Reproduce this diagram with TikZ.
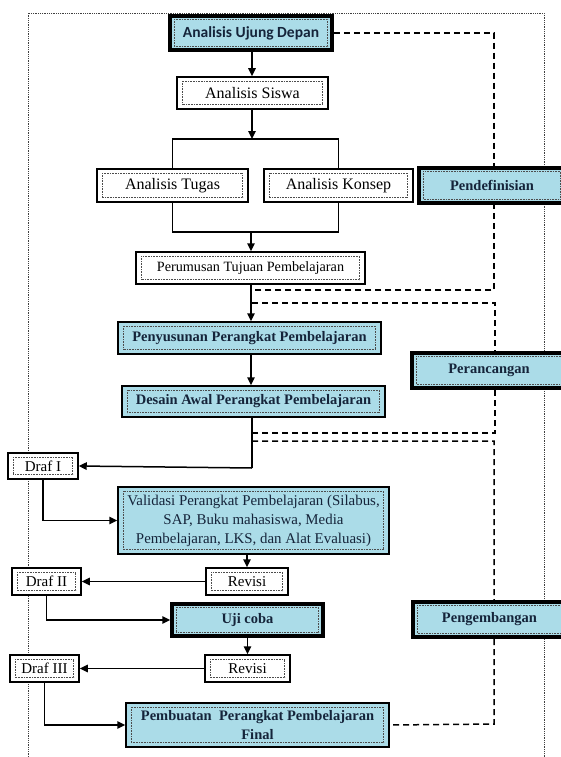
\documentclass[tikz,border=0pt]{standalone}
\usepackage{fontspec}
\setmainfont{Liberation Serif}
\newfontfamily\carl{Carlito}
\usetikzlibrary{arrows.meta,backgrounds}
\definecolor{boxblue}{HTML}{ABDCE8}
\definecolor{ink}{HTML}{15243A}
\tikzset{
  base/.style={draw=black, line width=1.5pt, inner sep=0pt, align=center, text=black},
  wbox/.style={base, fill=white, font=\fontsize{15}{18}\selectfont},
  bbox/.style={base, fill=boxblue, text=ink, font=\fontsize{14.5}{19}\selectfont\bfseries},
  thick box/.style={line width=3.5pt},
  arr/.style={-{Triangle[length=8pt,width=7.5pt]}, line width=1.5pt},
  ln/.style={line width=1.5pt},
  dline/.style={line width=1.5pt, dash pattern=on 6pt off 4pt},
  frame/.style={black!75, line width=0.8pt, densely dotted},
  inner/.style={black!70, line width=0.6pt, densely dotted}
}
\begin{document}
\begin{tikzpicture}[x=1pt,y=-1pt]
\useasboundingbox (0,0) rectangle (560,757);
% nodes
\node[bbox, thick box, minimum width=162pt, minimum height=34pt, font=\carl\fontsize{15.5}{18}\selectfont\bfseries] (aud) at (251,33) {Analisis Ujung Depan};
\node[wbox, minimum width=151pt, minimum height=32pt, font=\fontsize{16}{18}\selectfont] (as) at (252.5,93) {Analisis Siswa};
\node[wbox, minimum width=151pt, minimum height=33pt, font=\fontsize{16}{18}\selectfont] (tugas) at (172.5,185.5) {Analisis Tugas};
\node[wbox, minimum width=149pt, minimum height=33pt, font=\fontsize{16}{18}\selectfont] (konsep) at (338.5,185.5) {Analisis Konsep};
\node[bbox, thick box, minimum width=146pt, minimum height=35pt] (pendef) at (492,185.5) {Pendefinisian};
\node[wbox, minimum width=229pt, minimum height=32pt, font=\fontsize{14.2}{18}\selectfont] (perumusan) at (250.5,268) {Perumusan Tujuan Pembelajaran};
\node[bbox, minimum width=263pt, minimum height=32pt] (penyusunan) at (249.5,338) {Penyusunan Perangkat Pembelajaran};
\node[bbox, minimum width=263pt, minimum height=31pt] (desain) at (253.5,401.5) {Desain Awal Perangkat Pembelajaran};
\node[bbox, thick box, minimum width=154pt, minimum height=35pt] (perancangan) at (489,370.5) {Perancangan};
\node[wbox, minimum width=70pt, minimum height=26pt] (drafi) at (43,466) {Draf I};
\node[bbox, minimum width=271pt, minimum height=67pt, font=\fontsize{14.9}{19}\selectfont] (validasi) at (253.5,520.5) {Validasi Perangkat Pembelajaran (Silabus,\\SAP, Buku mahasiswa, Media\\Pembelajaran, LKS, dan Alat Evaluasi)};
\node[wbox, minimum width=82pt, minimum height=27pt] (revisia) at (247,581.5) {Revisi};
\node[wbox, minimum width=69pt, minimum height=27pt] (drafii) at (46.5,581.5) {Draf II};
\node[bbox, thick box, minimum width=151pt, minimum height=32pt] (uji) at (247.5,620) {Uji coba};
\node[bbox, thick box, minimum width=153pt, minimum height=35pt] (pengembangan) at (489.5,619.5) {Pengembangan};
\node[wbox, minimum width=85pt, minimum height=27pt] (revisib) at (247.5,668.5) {Revisi};
\node[wbox, minimum width=69pt, minimum height=27pt] (drafiii) at (44.5,668.5) {Draf III};
\node[bbox, minimum width=263pt, minimum height=44pt] (pembuatan) at (257.5,725) {Pembuatan\ \ Perangkat Pembelajaran\\Final};
% inner dotted text frames
\foreach \n in {aud,as,tugas,konsep,pendef,perumusan,penyusunan,desain,perancangan,drafi,validasi,revisia,drafii,uji,pengembangan,revisib,drafiii,pembuatan}
  \draw[inner] ([shift={(6pt,-5pt)}]\n.north west) rectangle ([shift={(-6pt,5pt)}]\n.south east);
% helper coordinates
\coordinate (jtop) at (252,139);
\coordinate (jbot) at (251,232);
\coordinate (d1b) at (494,290);
\coordinate (d1c) at (252,290);
\coordinate (d2a) at (252,303);
\coordinate (d2c) at (495,433);
\coordinate (d2d) at (252,433);
\coordinate (d3a) at (252,441);
\coordinate (d3c) at (494,724);
\coordinate (bend) at (252,468);
% solid connectors
\draw[arr] (aud.south -| jtop) -- (as.north -| jtop);
\draw[arr] (as.south -| jtop) -- (jtop);
\draw[ln] (tugas.north) |- (jtop) -| (konsep.north);
\draw[ln] (tugas.south) |- (jbot) -| (konsep.south);
\draw[arr] (jbot) -- (perumusan.north -| jbot);
\draw[arr] (perumusan.south -| jbot) -- (penyusunan.north -| jbot);
\draw[arr] (penyusunan.south -| jbot) -- (desain.north -| jbot);
\draw[ln] (desain.south -| bend) -- (bend);
\draw[arr] (bend) -- (drafi.east);
\draw[arr] (drafi.south) |- (validasi.west);
\draw[arr] (validasi.south -| revisia.north) -- (revisia.north);
\draw[arr] (revisia.west) -- (drafii.east);
\draw[arr] (drafii.south) |- (uji.west);
\draw[arr] (uji.south -| revisib.north) -- (revisib.north);
\draw[arr] (revisib.west) -- (drafiii.east);
\draw[arr] (drafiii.south) |- (pembuatan.west);
% background: frame and dashed lines
\begin{pgfonlayer}{background}
\draw[frame] (28,757) -- (28,13) -- (544,13) -- (544,757);
\draw[dline] (aud.east) -| (d1b) -- (d1c);
\draw[dline] (d2a) -| (d2c) -- (d2d);
\draw[dline] (d3a) -| (d3c) -- (pembuatan.east);
\end{pgfonlayer}
\end{tikzpicture}
\end{document}
